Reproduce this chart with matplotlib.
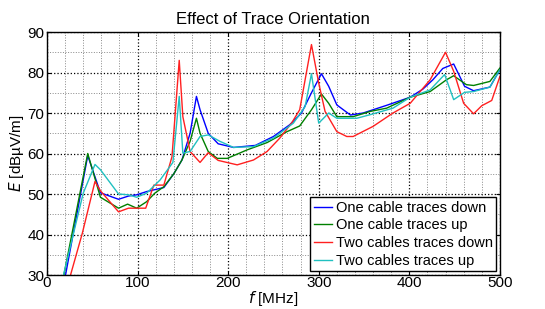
import numpy as np
import matplotlib
matplotlib.use('Agg')
import matplotlib.pyplot as plt
from matplotlib.ticker import MultipleLocator

plt.rcParams['font.family'] = ['Liberation Sans', 'DejaVu Sans']

# frequency [MHz] / field [dBuV/m]
f_blue = [18, 45, 59, 79, 90, 99, 110, 129, 140, 149, 158, 165, 169, 178, 189, 206, 230,
          250, 268, 281, 292, 303, 311, 320, 335, 349, 375, 401, 415, 426, 437, 449, 461,
          471, 489, 500]
e_blue = [27, 59.5, 50.3, 48.7, 49.5, 49.8, 50.6, 51.6, 55, 58.4, 65, 74.1, 70.8, 65, 62.4,
          61.5, 62, 64.2, 67.1, 70, 75, 79.7, 76.6, 72, 69.5, 70, 71.9, 73.9, 75.9, 78.2,
          81, 82.1, 76.6, 75.5, 76.4, 80.7]

f_green = [16, 45, 59, 79, 89, 99, 110, 119, 129, 140, 149, 158, 165, 169, 178, 188, 199,
           221, 243, 265, 279, 292, 303, 311, 320, 338, 357, 375, 401, 423, 441, 449, 463,
           471, 489, 500]
e_green = [27, 60, 49.2, 46.5, 47.5, 46.5, 48.1, 50.2, 51.8, 55, 58.4, 63, 68.7, 65, 60.5,
           58.8, 58.8, 60.9, 62.7, 65.4, 66.8, 70.8, 74.7, 72.4, 69.1, 69.1, 70.4, 71.2,
           73.9, 75.3, 78.2, 79.2, 77, 76.8, 77.8, 81.1]

f_red = [22, 26, 39, 53, 59, 79, 90, 109, 118, 129, 138, 146, 150, 158, 169, 178, 189, 210,
         228, 243, 257, 270, 279, 292, 300, 307, 320, 331, 338, 360, 382, 401, 423, 440,
         449, 460, 471, 480, 491, 500]
e_red = [27, 30, 40.3, 53.1, 50.8, 45.6, 46.5, 46.5, 52.2, 52.2, 59.2, 83, 69.1, 60.5,
         57.8, 60.2, 58.3, 57.2, 58.4, 60.5, 63.8, 67.5, 70.8, 86.9, 77.4, 70.4, 65.4,
         64.2, 64.2, 66.7, 70, 72.4, 78.2, 85, 80.3, 72.4, 69.8, 71.8, 73.1, 79]

f_cyan = [15, 40, 53, 59, 79, 90, 99, 110, 125, 139, 146, 150, 158, 169, 178, 191, 206,
          228, 250, 272, 285, 292, 300, 311, 320, 342, 357, 382, 401, 423, 439, 449, 461,
          471, 489, 500]
e_cyan = [27, 50.2, 57.3, 56, 50, 49.8, 49.2, 50.2, 53.5, 57.8, 74.1, 60.1, 60.5, 64.2,
          64.6, 63, 61.5, 61.7, 63.8, 67.5, 71.6, 79.7, 67.5, 70, 68.7, 68.7, 69.6, 71.2,
          73.9, 75.7, 79.5, 73.3, 75.1, 75.3, 76.4, 80.7]

labels = ['One cable traces down', 'One cable traces up',
          'Two cables traces down', 'Two cables traces up']
colors = ['#0000ff', '#008000', '#ff2020', '#20c0c0']

fig = plt.figure(figsize=(5.45, 3.09), dpi=100)
ax = fig.add_axes([0.0862, 0.110, 0.831, 0.7864])

series = [(f_blue, e_blue), (f_green, e_green), (f_red, e_red), (f_cyan, e_cyan)]
for (fx, ey), lab, c in zip(series, labels, colors):
    ax.plot(fx, ey, color=c, lw=1.0, label=lab)

ax.set_xlim(0, 500)
ax.set_ylim(30, 90)
ax.xaxis.set_major_locator(MultipleLocator(100))
ax.xaxis.set_minor_locator(MultipleLocator(20))
ax.yaxis.set_major_locator(MultipleLocator(10))
ax.yaxis.set_minor_locator(MultipleLocator(5))
ax.grid(which='major', color='black', ls=':', lw=0.9)
ax.grid(which='minor', color='#888888', ls=':', lw=0.7)
ax.tick_params(which='both', direction='in', labelsize=11, top=True, right=True)
ax.tick_params(which='minor', length=0)
ax.tick_params(axis='x', which='major', length=3, pad=1)
ax.tick_params(axis='y', which='major', length=3, pad=2)
for s in ax.spines.values():
    s.set_linewidth(1.0)

ax.set_title('Effect of Trace Orientation', fontsize=12, pad=6)
ax.set_xlabel('$f$ [MHz]', fontsize=11, labelpad=-1)
ax.set_ylabel('$E$ [dBµV/m]', fontsize=11, labelpad=1)

leg = ax.legend(loc='lower right', fontsize=10.5, fancybox=False, framealpha=1,
                edgecolor='black', handlelength=1.25, handletextpad=0.25,
                borderpad=0.25, labelspacing=0.25, borderaxespad=0.25)
leg.get_frame().set_linewidth(1.0)

fig.savefig('out.png', dpi=100)
